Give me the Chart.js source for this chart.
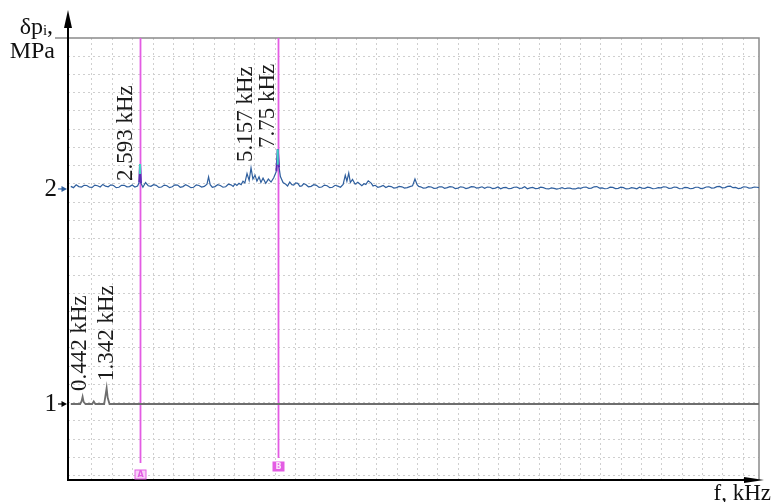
<!DOCTYPE html>
<html>
<head>
<meta charset="utf-8">
<script src="https://cdn.jsdelivr.net/npm/chart.js@4.4.1/dist/chart.umd.min.js"></script>
<style>
html, body { margin: 0; padding: 0; background: #fff; }
canvas { display: block; }
</style>
</head>
<body>
<canvas id="spectrum" width="773" height="502"></canvas>
<script>
// --- DATOS ---
// canal 2 (trazo azul), frecuencia en kHz
const freqs2ch = [
  0, 0.1, 0.2, 0.3, 0.4, 0.5, 0.6, 0.7, 0.8, 0.9, 1.0, 1.1, 1.2, 1.3, 1.4, 1.5, 1.6, 1.7, 1.8, 1.9, 2.0, 2.1, 2.2, 2.3, 2.4,
  2.5, 2.56, 2.593, 2.63, 2.7, 2.8, 2.9, 3.0, 3.1, 3.2, 3.3, 3.4, 3.5, 3.6, 3.7, 3.8, 3.9,
  4.0, 4.1, 4.2, 4.3, 4.4, 4.5, 4.6, 4.7, 4.8, 4.9, 5.0, 5.1, 5.16, 5.22, 5.3, 5.4, 5.5, 5.6, 5.7, 5.8, 5.9,
  6.0, 6.08, 6.15, 6.22, 6.3, 6.38, 6.45, 6.52, 6.6, 6.68, 6.75, 6.82, 6.9, 6.97, 7.05, 7.12, 7.2, 7.3, 7.4, 7.5, 7.6, 7.7, 7.75, 7.8, 7.85, 7.95,
  8.05, 8.12, 8.2, 8.28, 8.35, 8.42, 8.5, 8.58, 8.65, 8.72, 8.8, 8.9, 9.0, 9.1, 9.2, 9.3, 9.4, 9.5, 9.6, 9.7, 9.8, 9.9, 10.0, 10.1, 10.2,
  10.28, 10.34, 10.41, 10.47, 10.55, 10.65, 10.75, 10.9, 10.98, 11.05, 11.14, 11.25, 11.32, 11.4, 11.5, 11.6, 11.7, 11.8, 11.9,
  12.0, 12.1, 12.2, 12.3, 12.4, 12.5, 12.6, 12.7, 12.8, 12.89, 12.97, 13.03, 13.1, 13.2, 13.3, 13.4, 13.5, 13.6, 13.7, 13.8, 13.9,
  14.0, 14.1, 14.2, 14.3, 14.4, 14.5, 14.6, 14.7, 14.8, 14.9, 15.0, 15.1, 15.2, 15.3, 15.4,
  15.5, 15.6, 15.7, 15.8, 15.9, 16.0, 16.1, 16.2, 16.3, 16.4,
  16.5, 16.6, 16.7, 16.8, 16.9, 17.0, 17.1, 17.2, 17.3, 17.4,
  17.5, 17.6, 17.7, 17.8, 17.9, 18.0, 18.1, 18.2, 18.3, 18.4,
  18.5, 18.6, 18.7, 18.8, 18.9, 19.0, 19.1, 19.2, 19.3, 19.4,
  19.5, 19.6, 19.7, 19.8, 19.9, 20.0, 20.1, 20.2, 20.3, 20.4,
  20.5, 20.6, 20.7, 20.8, 20.9, 21.0, 21.1, 21.2, 21.3, 21.4,
  21.5, 21.6, 21.7, 21.8, 21.9, 22.0, 22.1, 22.2, 22.3, 22.4,
  22.5, 22.6, 22.7, 22.8, 22.9, 23.0, 23.1, 23.2, 23.3, 23.4,
  23.5, 23.6, 23.7, 23.8, 23.9, 24.0, 24.1, 24.2, 24.3, 24.4,
  24.5, 24.6, 24.7, 24.8, 24.9, 25.0, 25.1, 25.2, 25.3, 25.4,
  25.5, 25.6, 25.7, 25.775
];
const values2ch = [
  2.012, 2.006, 2.019, 2.011, 2.009, 2.017, 2.016, 2.008, 2.007, 2.018, 2.015, 2.009, 2.021, 2.013, 2.010, 2.019, 2.016, 2.006, 2.008, 2.017, 2.017, 2.010, 2.011, 2.018, 2.009,
  2.014, 2.030, 2.116, 2.026, 2.008, 2.030, 2.015, 2.012, 2.020, 2.017, 2.007, 2.009, 2.018, 2.015, 2.006, 2.010, 2.019,
  2.018, 2.008, 2.011, 2.020, 2.014, 2.006, 2.008, 2.019, 2.016, 2.009, 2.012, 2.022, 2.056, 2.020, 2.008, 2.011, 2.020, 2.016, 2.008, 2.010, 2.022,
  2.019, 2.012, 2.024, 2.016, 2.026, 2.020, 2.036, 2.028, 2.072, 2.040, 2.098, 2.046, 2.064, 2.036, 2.056, 2.030, 2.050, 2.026, 2.046, 2.032, 2.052, 2.082, 2.185, 2.100, 2.058, 2.030,
  2.022, 2.014, 2.032, 2.020, 2.018, 2.028, 2.026, 2.012, 2.014, 2.024, 2.021, 2.010, 2.012, 2.020, 2.017, 2.007, 2.009, 2.018, 2.015, 2.006, 2.008, 2.017, 2.013, 2.008, 2.021,
  2.064, 2.036, 2.074, 2.030, 2.044, 2.022, 2.031, 2.015, 2.024, 2.021, 2.038, 2.027, 2.014, 2.017, 2.008, 2.011, 2.016, 2.007, 2.013,
  2.011, 2.004, 2.006, 2.012, 2.010, 2.004, 2.006, 2.011, 2.015, 2.046, 2.020, 2.012, 2.010, 2.004, 2.005, 2.011, 2.009, 2.003, 2.004, 2.010, 2.010,
  2.003, 2.006, 2.011, 2.009, 2.002, 2.004, 2.010, 2.008, 2.002, 2.005, 2.011, 2.010, 2.004, 2.006, 2.010,
  2.003, 2.009, 2.008, 2.002, 2.004, 2.009, 2.001, 2.006, 2.007, 2.001,
  2.003, 2.008, 2.009, 2.003, 2.004, 2.010, 2.001, 2.005, 2.007, 2.002,
  2.003, 2.008, 2.006, 2.001, 2.000, 2.005, 2.003, 1.999, 2.002, 2.006,
  2.001, 2.004, 2.004, 2.000, 2.000, 2.005, 2.003, 2.008, 2.009, 2.003,
  2.004, 2.010, 2.011, 2.004, 2.005, 2.001, 2.002, 2.008, 2.007, 2.002,
  2.003, 2.008, 2.006, 2.000, 2.001, 2.006, 2.004, 2.001, 2.008, 2.004,
  2.003, 2.008, 2.006, 2.001, 2.002, 2.006, 2.005, 2.010, 2.009, 2.003,
  2.004, 2.009, 2.007, 2.001, 2.002, 2.007, 2.006, 2.001, 2.003, 2.008,
  2.008, 2.002, 2.004, 2.009, 2.010, 2.004, 2.005, 2.011, 2.012, 2.005,
  2.006, 2.012, 2.013, 2.006, 2.007, 2.002, 2.004, 2.010, 2.009, 2.004,
  2.005, 2.009, 2.008, 2.006
];

// canal 1 (trazo gris)
const freqs1ch = [0, 0.35, 0.40, 0.442, 0.48, 0.55, 0.80, 0.86, 0.92, 1.00, 1.25, 1.30, 1.342, 1.38, 1.45, 25.775];
const values1ch = [1.0, 1.0, 1.012, 1.034, 1.010, 1.0, 1.0, 1.012, 1.0, 1.0, 1.0, 1.040, 1.074, 1.030, 1.0, 1.0];

// marcadores A y B
const markerFreqs = [2.593, 7.75];
const markerNames = ['A', 'B'];
const markerTipTop = [2.116, 2.185];
const markerTipBottom = [2.070, 2.112];

// etiquetas de picos
const peakLabels = ['0.442 kHz', '1.342 kHz', '2.593 kHz', '5.157 kHz', '7.75 kHz'];
const peakLabelAt = [0.442, 1.342, 2.593, 7.75, 7.75];

// ticks del eje y (canales)
const channelTicks = [1, 2];

// --- ESCALAS ---
const X_MIN = -0.105, X_MAX = 25.775;
const Y_MIN = 0.6465, Y_MAX = 2.702;
const X_DIV = 0.7622, Y_DIV = 0.08479;
const gridCols = [];
for (let k = 1; k <= 33; k++) gridCols.push(0.03 + k * X_DIV);
const gridRows = [];
for (let k = 1; k <= 24; k++) gridRows.push(Y_MAX - k * Y_DIV);

const SERIF = '"Liberation Serif", "Times New Roman", serif';
const MARKER_COLOR = '#e35ce3';
const TRACE_BLUE = '#2f5f9e';

function toPoints(xs, ys) {
  return xs.map((x, i) => ({ x, y: ys[i] }));
}

function nearMarker(ctx) {
  const a = ctx.p0.parsed.x, b = ctx.p1.parsed.x;
  return markerFreqs.some(f => Math.abs(a - f) < 0.001 || Math.abs(b - f) < 0.001);
}

// quitar el relleno que Chart.js reserva para las etiquetas
function noPad(s) {
  s.paddingTop = 0; s.paddingBottom = 0;
  s.paddingLeft = 0; s.paddingRight = 0;
}

// --- PLUGIN: ejes, marcadores, textos ---
const framePlugin = {
  id: 'frame',
  beforeDatasetsDraw(chart) {
    const { ctx, chartArea: ca, scales } = chart;
    ctx.save();
    // marco superior y derecho
    ctx.strokeStyle = '#8a8a8a';
    ctx.lineWidth = 1.5;
    ctx.beginPath();
    ctx.moveTo(55, ca.top); ctx.lineTo(ca.right, ca.top);
    ctx.lineTo(ca.right, ca.bottom);
    ctx.stroke();
    // lineas de marcador
    const ends = [463, 458];
    ctx.strokeStyle = MARKER_COLOR;
    ctx.lineWidth = 1.8;
    markerFreqs.forEach((f, i) => {
      const x = Math.round(scales.x.getPixelForValue(f)) + 0.5;
      ctx.beginPath();
      ctx.moveTo(x, ca.top);
      ctx.lineTo(x, ends[i]);
      ctx.stroke();
    });
    ctx.restore();
  },
  afterDraw(chart) {
    const { ctx, chartArea: ca, scales } = chart;
    ctx.save();
    // eje y con flecha
    ctx.strokeStyle = '#000';
    ctx.fillStyle = '#000';
    ctx.lineWidth = 2;
    ctx.beginPath();
    ctx.moveTo(ca.left, ca.bottom); ctx.lineTo(ca.left, 24);
    ctx.stroke();
    ctx.beginPath();
    ctx.moveTo(ca.left, 10); ctx.lineTo(ca.left - 4, 28); ctx.lineTo(ca.left + 4, 28);
    ctx.closePath(); ctx.fill();
    // eje x con flecha
    ctx.beginPath();
    ctx.moveTo(ca.left - 1, ca.bottom); ctx.lineTo(750, ca.bottom);
    ctx.stroke();
    ctx.beginPath();
    ctx.moveTo(764, ca.bottom); ctx.lineTo(744, ca.bottom - 3); ctx.lineTo(744, ca.bottom + 3);
    ctx.closePath(); ctx.fill();

    // flechas de canal
    const arrowColors = ['#000', TRACE_BLUE];
    channelTicks.forEach((v, i) => {
      const y = scales.y.getPixelForValue(v);
      ctx.strokeStyle = arrowColors[i];
      ctx.fillStyle = arrowColors[i];
      ctx.lineWidth = 1.2;
      ctx.beginPath();
      ctx.moveTo(58, y); ctx.lineTo(63, y);
      ctx.stroke();
      ctx.beginPath();
      ctx.moveTo(67, y); ctx.lineTo(61.5, y - 3); ctx.lineTo(61.5, y + 3);
      ctx.closePath(); ctx.fill();
    });

    // cajas de marcador
    const boxTop = [470, 462];
    markerFreqs.forEach((f, i) => {
      const x = Math.round(scales.x.getPixelForValue(f)) + 0.5;
      const y = boxTop[i];
      ctx.lineWidth = 1;
      ctx.strokeStyle = MARKER_COLOR;
      ctx.fillStyle = i === 0 ? '#f7d0f7' : MARKER_COLOR;
      ctx.fillRect(x - 5.5, y, 11, 9);
      ctx.strokeRect(x - 5.5, y, 11, 9);
      ctx.fillStyle = i === 0 ? MARKER_COLOR : '#fbe4fb';
      ctx.font = 'bold 8px "DejaVu Sans", sans-serif';
      ctx.textAlign = 'center';
      ctx.textBaseline = 'middle';
      ctx.fillText(markerNames[i], x, y + 5);
    });

    // etiquetas verticales de picos
    const dx = [-3, 0, -14, -32, -10];
    const yBottom = [391, 381, 181, 162, 148];
    ctx.fillStyle = '#1a1a1a';
    ctx.font = '23px ' + SERIF;
    ctx.textAlign = 'left';
    ctx.textBaseline = 'middle';
    peakLabels.forEach((t, i) => {
      const x = scales.x.getPixelForValue(peakLabelAt[i]) + dx[i];
      ctx.save();
      ctx.translate(x, yBottom[i]);
      ctx.rotate(-Math.PI / 2);
      ctx.fillText(t, 0, 0);
      ctx.restore();
    });

    // titulos de ejes
    ctx.fillStyle = '#111';
    ctx.textBaseline = 'alphabetic';
    ctx.font = '24px ' + SERIF;
    ctx.textAlign = 'right';
    ctx.fillText('δp', 43, 34);
    ctx.font = '15px ' + SERIF;
    ctx.textAlign = 'left';
    ctx.fillText('i', 43, 35);
    ctx.font = '24px ' + SERIF;
    ctx.fillText(',', 47, 33);
    ctx.textAlign = 'right';
    ctx.fillText('MPa', 55, 58);
    ctx.font = '23px ' + SERIF;
    ctx.fillText('f, kHz', 771, 500);
    ctx.restore();
  }
};

const hiddenGrid = (ticksList, horizontal) => ({
  type: 'linear',
  position: horizontal ? 'bottom' : 'left',
  min: horizontal ? X_MIN : Y_MIN,
  max: horizontal ? X_MAX : Y_MAX,
  ticks: { display: false },
  grid: { color: '#cfcfcf', lineWidth: 1, drawTicks: false },
  border: { display: false, dash: [2, 3] },
  afterBuildTicks: s => { s.ticks = ticksList.map(v => ({ value: v })); },
  afterFit: s => { noPad(s); if (horizontal) s.height = 0; else s.width = 0; }
});

new Chart(document.getElementById('spectrum').getContext('2d'), {
  type: 'line',
  data: {
    datasets: [
      {
        label: 'tips',
        data: [
          { x: markerFreqs[0], y: markerTipTop[0] }, { x: markerFreqs[0], y: markerTipBottom[0] },
          { x: null, y: null },
          { x: markerFreqs[1], y: markerTipTop[1] }, { x: markerFreqs[1], y: markerTipBottom[1] }
        ],
        borderColor: '#3fd3c6',
        borderWidth: 2,
        pointRadius: 0,
        spanGaps: false,
        order: 0
      },
      {
        label: 'canal 2',
        data: toPoints(freqs2ch, values2ch),
        borderColor: TRACE_BLUE,
        borderWidth: 1.2,
        pointRadius: 0,
        tension: 0,
        segment: { borderColor: c => nearMarker(c) ? '#5a2db3' : undefined, borderWidth: c => nearMarker(c) ? 2 : undefined },
        order: 1
      },
      {
        label: 'canal 1',
        data: toPoints(freqs1ch, values1ch),
        borderColor: '#6e6e6e',
        borderWidth: 1.8,
        pointRadius: 0,
        tension: 0,
        order: 2
      }
    ]
  },
  options: {
    responsive: false,
    animation: false,
    devicePixelRatio: 1,
    layout: { padding: { top: 38, right: 14, left: 0, bottom: 0 } },
    plugins: { legend: { display: false }, tooltip: { enabled: false } },
    scales: {
      x: {
        type: 'linear', position: 'bottom', min: X_MIN, max: X_MAX,
        ticks: { display: false }, grid: { display: false }, border: { display: false },
        afterFit: s => { noPad(s); s.height = 22; }
      },
      xg: hiddenGrid(gridCols, true),
      y: {
        type: 'linear', position: 'left', min: Y_MIN, max: Y_MAX,
        ticks: { color: '#111', font: { family: SERIF, size: 25 }, padding: 3, callback: v => String(v) },
        grid: { display: false }, border: { display: false },
        afterBuildTicks: s => { s.ticks = channelTicks.map(v => ({ value: v })); },
        afterFit: s => { noPad(s); s.width = 68; }
      },
      yg: hiddenGrid(gridRows, false)
    }
  },
  plugins: [framePlugin]
});
</script>
</body>
</html>
